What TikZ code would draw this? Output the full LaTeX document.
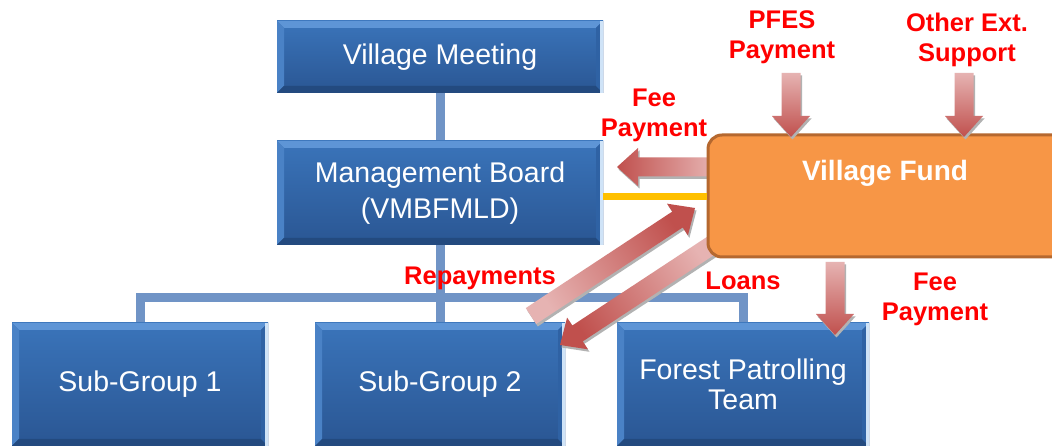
\documentclass[tikz,border=0pt]{standalone}
\usepackage{fontspec}
\setmainfont{Liberation Sans}
\usetikzlibrary{calc,backgrounds}
\definecolor{boxtop}{HTML}{3A74BA}
\definecolor{boxbot}{HTML}{2A5693}
\definecolor{bevtop}{HTML}{5E95D6}
\definecolor{bevleft}{HTML}{4A82C6}
\definecolor{bevright}{HTML}{2F62A4}
\definecolor{bevbot}{HTML}{234A7F}
\definecolor{hilite}{HTML}{CFE3F7}
\definecolor{connc}{HTML}{7094C6}
\definecolor{fundfill}{HTML}{F79646}
\definecolor{fundedge}{HTML}{B5682F}
\definecolor{yelc}{HTML}{FFC000}
\definecolor{arrhead}{HTML}{C0504D}
\definecolor{arrtail}{HTML}{E6B3B2}
\newcommand\blockarr[3]{%
  \coordinate (ab) at ($(#2)!21pt!(#1)$);
  \fill[gray!60, transform canvas={xshift=1.5pt,yshift=-2.5pt}]
    ($(#1)!9.5pt!90:(#2)$) -- ($(ab)!9.5pt!90:(#2)$) -- ($(ab)!19pt!90:(#2)$) -- (#2)
    -- ($(ab)!19pt!-90:(#2)$) -- ($(ab)!9.5pt!-90:(#2)$) -- ($(#1)!9.5pt!-90:(#2)$) -- cycle;
  \shade[top color=arrhead, bottom color=arrtail, shading angle=#3]
    ($(#1)!9.5pt!90:(#2)$) -- ($(ab)!9.5pt!90:(#2)$) -- ($(ab)!19pt!90:(#2)$) -- (#2)
    -- ($(ab)!19pt!-90:(#2)$) -- ($(ab)!9.5pt!-90:(#2)$) -- ($(#1)!9.5pt!-90:(#2)$) -- cycle;
}
\tikzset{
  orgbox/.style={rectangle, inner sep=0pt, top color=boxtop, bottom color=boxbot,
    text=white, font=\fontsize{28.5}{30}\selectfont, align=center,
    path picture={
      \fill[bevtop] (path picture bounding box.north west) -- (path picture bounding box.north east)
        -- ([shift={(-7pt,-7pt)}]path picture bounding box.north east) -- ([shift={(7pt,-7pt)}]path picture bounding box.north west) -- cycle;
      \fill[bevleft] (path picture bounding box.north west) -- ([shift={(7pt,-7pt)}]path picture bounding box.north west)
        -- ([shift={(7pt,7pt)}]path picture bounding box.south west) -- (path picture bounding box.south west) -- cycle;
      \fill[bevbot] (path picture bounding box.south west) -- ([shift={(7pt,7pt)}]path picture bounding box.south west)
        -- ([shift={(-7pt,7pt)}]path picture bounding box.south east) -- (path picture bounding box.south east) -- cycle;
      \fill[bevright] (path picture bounding box.north east) -- ([shift={(-7pt,-7pt)}]path picture bounding box.north east)
        -- ([shift={(-7pt,7pt)}]path picture bounding box.south east) -- (path picture bounding box.south east) -- cycle;
      \fill[hilite] ([xshift=-3pt]path picture bounding box.north east) rectangle (path picture bounding box.south east);
    }},
  conn/.style={draw=connc, line width=9pt},
  lab/.style={text=red, font=\bfseries\fontsize{25.5}{30}\selectfont, align=center, inner sep=0pt},
}
\begin{document}
\begin{tikzpicture}[x=1pt,y=1pt]
\useasboundingbox (0,0) rectangle (1052,446);

\node[orgbox, minimum width=326pt, minimum height=72pt] (vm) at (440,389) {Village Meeting};
\node[orgbox, minimum width=326pt, minimum height=104pt] (mb) at (440,253) {Management Board\\[6pt](VMBFMLD)};
\node[orgbox, minimum width=256pt, minimum height=123pt] (sg1) at (140,61.5) {Sub-Group 1};
\node[orgbox, minimum width=250pt, minimum height=123pt] (sg2) at (440,61.5) {Sub-Group 2};
\node[orgbox, minimum width=252pt, minimum height=123pt] (fpt) at (743,61.5) {Forest Patrolling\\Team};

\coordinate (busy) at (0,148);
\begin{scope}[on background layer]
  \fill[white] (0,0) rectangle (1052,446);
  \draw[conn] (vm.south) -- (mb.north);
  \draw[conn] (mb.south) -- (mb.south |- busy);
  \draw[conn, line join=miter] (sg1.north) -- (sg1.north |- busy) -| (fpt.north);
  \draw[conn] (sg2.north) -- (sg2.north |- busy);
\end{scope}

% arrows under the fund box
\coordinate (loat) at (715,203);
\coordinate (loah) at (560,101);
\blockarr{loat}{loah}{123.3}
\coordinate (rept) at (531,130);
\coordinate (reph) at (695,238);
\blockarr{rept}{reph}{-56.6}
\coordinate (feelt) at (714,279);
\coordinate (feelh) at (617,279);
\blockarr{feelt}{feelh}{90}

\node[rectangle, rounded corners=14pt, fill=fundfill, draw=fundedge, line width=3pt,
      minimum width=362pt, minimum height=122pt, inner sep=0pt] (vf) at (889,250) {};
\node[text=white, font=\bfseries\fontsize{28}{30}\selectfont, inner sep=0pt] (vftext) at (885,273) {Village Fund};

\coordinate (yl) at (0,249);
\draw[yelc, line width=7pt] (mb.east |- yl) -- (vf.west |- yl);

\coordinate (pfest) at (791,373);
\coordinate (pfesh) at (791,309);
\blockarr{pfest}{pfesh}{180}
\coordinate (otht) at (964,373);
\coordinate (othh) at (964,309);
\blockarr{otht}{othh}{180}
\coordinate (feedt) at (835,184);
\coordinate (feedh) at (835,111);
\blockarr{feedt}{feedh}{180}

\node[lab] (lfeel) at (654,331) {Fee\\Payment};
\node[lab] (lpfes) at (782,409) {PFES\\Payment};
\node[lab] (loth) at (967,406) {Other Ext.\\Support};
\node[lab] (lrep) at (480,168) {Repayments};
\node[lab] (lloa) at (743,165) {Loans};
\node[lab] (lfeer) at (935,147) {Fee\\Payment};
\end{tikzpicture}
\end{document}
